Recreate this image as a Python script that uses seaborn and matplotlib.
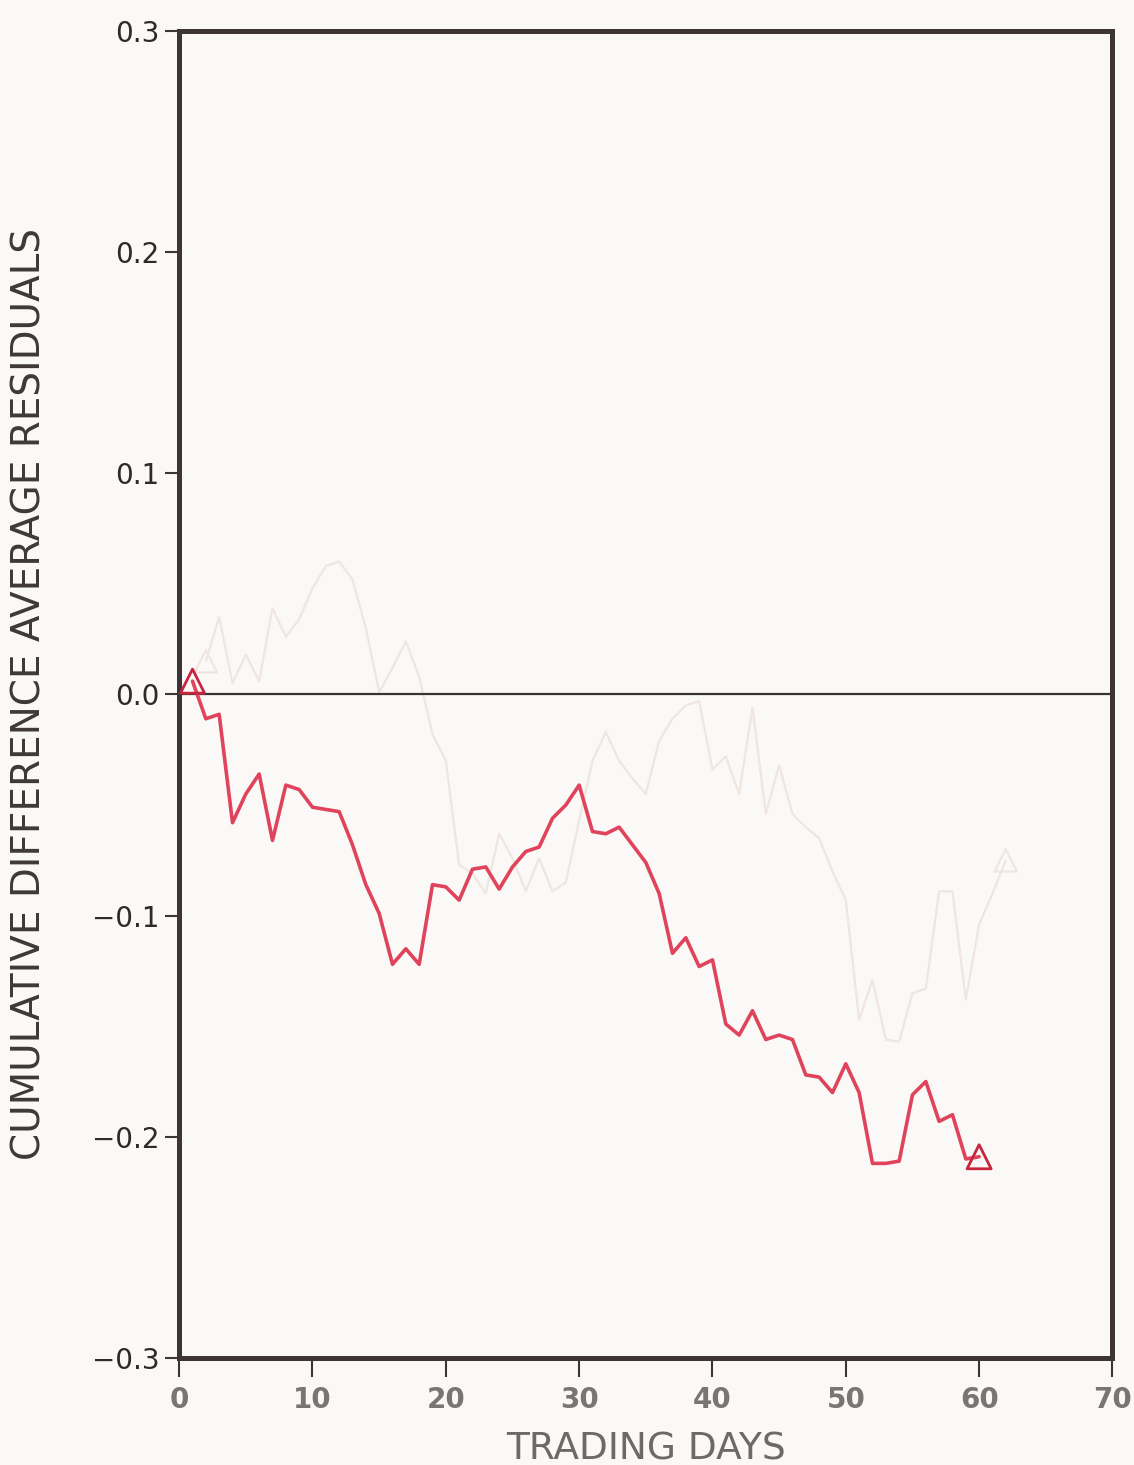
import numpy as np
import pandas as pd
import matplotlib
matplotlib.use("Agg")
import matplotlib.pyplot as plt
import seaborn as sns

# Cumulative difference of average residuals, trading days 1..60
days = list(range(1, 61))
car_diff = [
    0.006, -0.011, -0.009, -0.058, -0.045, -0.036, -0.066, -0.041, -0.043, -0.051,
    -0.052, -0.053, -0.068, -0.086, -0.099, -0.122, -0.115, -0.122, -0.086, -0.087,
    -0.093, -0.079, -0.078, -0.088, -0.078, -0.071, -0.069, -0.056, -0.050, -0.041,
    -0.062, -0.063, -0.060, -0.068, -0.076, -0.090, -0.117, -0.110, -0.123, -0.120,
    -0.149, -0.154, -0.143, -0.156, -0.154, -0.156, -0.172, -0.173, -0.180, -0.167,
    -0.180, -0.212, -0.212, -0.211, -0.181, -0.175, -0.193, -0.190, -0.210, -0.209,
]

# faint show-through series from the reverse page
ghost_days = list(range(2, 63))
ghost_vals = [
    0.015, 0.035, 0.005, 0.018, 0.006, 0.039, 0.026, 0.034, 0.048, 0.058,
    0.060, 0.052, 0.030, 0.001, 0.012, 0.024, 0.008, -0.018, -0.030, -0.077,
    -0.081, -0.090, -0.063, -0.074, -0.089, -0.074, -0.089, -0.085, -0.057, -0.030,
    -0.017, -0.030, -0.038, -0.045, -0.021, -0.011, -0.005, -0.003, -0.034, -0.028,
    -0.045, -0.006, -0.054, -0.032, -0.054, -0.060, -0.065, -0.080, -0.093, -0.147,
    -0.129, -0.156, -0.157, -0.135, -0.133, -0.089, -0.089, -0.138, -0.104, -0.090,
    -0.075,
]

x_ticks = [0, 10, 20, 30, 40, 50, 60, 70]
y_ticks = [-0.3, -0.2, -0.1, 0.0, 0.1, 0.2, 0.3]
y_tick_labels = ["\u22120.3", "\u22120.2", "\u22120.1", "0.0", "0.1", "0.2", "0.3"]

df = pd.DataFrame({"day": days, "car": car_diff})
ghost = pd.DataFrame({"day": ghost_days, "car": ghost_vals})
ends = df.iloc[[0, -1]]

sns.set_theme(style="ticks")
plt.rcParams["font.family"] = ["DejaVu Sans"]

bg = "#faf9f7"
frame = "#3d3535"
red = "#e0445c"

fig = plt.figure(figsize=(11.34, 14.65), dpi=100, facecolor=bg)
ax = fig.add_axes([0.158, 0.073, 0.823, 0.906])
ax.set_facecolor(bg)

# ghost line, very faint
sns.lineplot(data=ghost, x="day", y="car", ax=ax, color="#f0e6e1", linewidth=1.6, zorder=1)
ax.scatter([ghost_days[0], ghost_days[-1]], [ghost_vals[0], ghost_vals[-1]], marker="^", s=260,
           facecolors="none", edgecolors="#f0e6e1", linewidths=1.6, zorder=1)

# zero line
ax.axhline(0, color="#3a3333", linewidth=1.6, zorder=2)

# main series
sns.lineplot(data=df, x="day", y="car", ax=ax, color=red, linewidth=2.6, zorder=3)
sns.scatterplot(data=ends, x="day", y="car", ax=ax, marker="^", s=300,
                facecolors="none", edgecolor="#c8243e", linewidth=2.0, zorder=4)

ax.set_xlim(0, 70)
ax.set_ylim(-0.3, 0.3)
ax.set_xticks(x_ticks)
ax.set_xticklabels([str(t) for t in x_ticks], fontsize=20, color="#7a7474", fontweight="bold")
ax.set_yticks(y_ticks)
ax.set_yticklabels(y_tick_labels, fontsize=20, color="#2e2a2a")
ax.tick_params(axis="x", length=14, width=1.5, color=frame, pad=6, direction="out")
ax.tick_params(axis="y", length=10, width=1.5, color=frame, pad=4, direction="out")

for side in ["left", "right", "top", "bottom"]:
    ax.spines[side].set_visible(True)
    ax.spines[side].set_color(frame)
    ax.spines[side].set_linewidth(3.6)

ax.set_xlabel("TRADING DAYS", fontsize=27, color="#6e6868")
ax.set_ylabel("CUMULATIVE DIFFERENCE AVERAGE RESIDUALS", fontsize=28, color="#3e3838")
ax.yaxis.set_label_coords(-0.14, 0.5)
ax.xaxis.set_label_coords(0.5, -0.055)

fig.savefig("out.png", dpi=100, facecolor=bg)
